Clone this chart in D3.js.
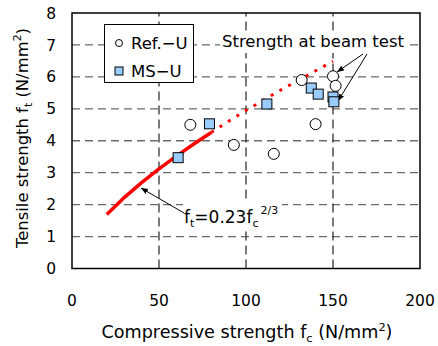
<!DOCTYPE html>
<html>
<head>
<meta charset="utf-8">
<script src="https://cdn.jsdelivr.net/npm/d3@7"></script>
<style>
  body { margin: 0; background: #fff; }
  text { font-family: "DejaVu Sans", sans-serif; fill: #000; }
</style>
</head>
<body>
<div id="chart"></div>
<script>
// Set up dimensions
const width = 438;
const height = 346;
const margin = {top: 13, right: 18, bottom: 77.5, left: 72};

// Data
const refX = [68, 93, 116, 132, 140, 150, 151.5];
const refY = [4.5, 3.87, 3.59, 5.9, 4.52, 6.02, 5.72];
const msX = [61, 79, 112, 137.5, 141.5, 150, 150.5];
const msY = [3.47, 4.53, 5.15, 5.65, 5.46, 5.37, 5.22];
// f_t = 0.23 f_c^(2/3) curve, read as points
const curveX = [20, 30, 40, 50, 60, 70, 80];
const curveY = [1.69, 2.22, 2.69, 3.12, 3.52, 3.90, 4.26];
const dotX = [80, 90, 100, 110, 120, 130, 140, 150];
const dotY = [4.26, 4.61, 4.95, 5.27, 5.59, 5.89, 6.19, 6.49];
const xTicks = [0, 50, 100, 150, 200];
const yTicks = [0, 1, 2, 3, 4, 5, 6, 7, 8];

const svg = d3.select('#chart')
    .append('svg')
    .attr('width', width)
    .attr('height', height);

const x = d3.scaleLinear().domain([0, 200]).range([margin.left, width - margin.right]);
const y = d3.scaleLinear().domain([0, 8]).range([height - margin.bottom, margin.top]);

// Grid
svg.append('g')
    .selectAll('line')
    .data(yTicks.slice(1, -1))
    .enter()
    .append('line')
    .attr('x1', x(0)).attr('x2', x(200))
    .attr('y1', d => y(d)).attr('y2', d => y(d))
    .style('stroke', '#6a6a6a')
    .style('stroke-width', 1.3)
    .style('stroke-dasharray', '8,5');

svg.append('g')
    .selectAll('line')
    .data([50, 100, 150])
    .enter()
    .append('line')
    .attr('x1', d => x(d)).attr('x2', d => x(d))
    .attr('y1', y(0)).attr('y2', y(8))
    .style('stroke', '#222')
    .style('stroke-width', 1.2)
    .style('stroke-dasharray', '9,5');

// Frame
svg.append('rect')
    .attr('x', x(0)).attr('y', y(8))
    .attr('width', x(200) - x(0))
    .attr('height', y(0) - y(8))
    .style('fill', 'none')
    .style('stroke', '#000')
    .style('stroke-width', 1.5);

// Tick labels
svg.append('g')
    .selectAll('text')
    .data(yTicks)
    .enter()
    .append('text')
    .attr('x', 56)
    .attr('y', d => y(d))
    .attr('dy', '0.36em')
    .attr('text-anchor', 'end')
    .style('font-size', '15.5px')
    .text(d => d);

svg.append('g')
    .selectAll('text')
    .data(xTicks)
    .enter()
    .append('text')
    .attr('x', d => x(d))
    .attr('y', 300)
    .attr('dy', '0.36em')
    .attr('text-anchor', 'middle')
    .style('font-size', '15.5px')
    .text(d => d);

// Axis titles
const xt = svg.append('text')
    .attr('x', 247)
    .attr('y', 338)
    .attr('text-anchor', 'middle')
    .attr('textLength', 291)
    .attr('lengthAdjust', 'spacingAndGlyphs')
    .style('font-size', '17px');
xt.append('tspan').text('Compressive strength f');
xt.append('tspan').attr('dy', 4).style('font-size', '11px').text('c');
xt.append('tspan').attr('dy', -4).text(' (N/mm');
xt.append('tspan').attr('dy', -7).style('font-size', '11px').text('2');
xt.append('tspan').attr('dy', 7).text(')');

const yt = svg.append('text')
    .attr('transform', 'translate(28,138) rotate(-90)')
    .attr('text-anchor', 'middle')
    .attr('textLength', 220)
    .attr('lengthAdjust', 'spacingAndGlyphs')
    .style('font-size', '16.5px');
yt.append('tspan').text('Tensile strength f');
yt.append('tspan').attr('dy', 4).style('font-size', '11px').text('t');
yt.append('tspan').attr('dy', -4).text(' (N/mm');
yt.append('tspan').attr('dy', -7).style('font-size', '11px').text('2');
yt.append('tspan').attr('dy', 7).text(')');

// Formula curve
const line = d3.line().x(d => x(d[0])).y(d => y(d[1]));
svg.append('path')
    .attr('d', line(d3.zip(curveX, curveY)))
    .style('fill', 'none')
    .style('stroke', '#ff0000')
    .style('stroke-width', 3.5);
svg.append('path')
    .attr('d', line(d3.zip(dotX, dotY)))
    .style('fill', 'none')
    .style('stroke', '#ff0000')
    .style('stroke-width', 3)
    .style('stroke-dasharray', '3,7');

// Arrow marker
svg.append('defs').append('marker')
    .attr('id', 'arrow')
    .attr('viewBox', '0 0 10 10')
    .attr('refX', 10).attr('refY', 5)
    .attr('markerWidth', 7).attr('markerHeight', 7)
    .attr('orient', 'auto')
    .append('path')
    .attr('d', 'M0,1 L10,5 L0,9 Z')
    .style('fill', '#000');

// Annotation: beam test
const beam = svg.append('g');
beam.append('rect')
    .attr('x', 220).attr('y', 31).attr('width', 186).attr('height', 22)
    .style('fill', '#fff');
beam.append('text')
    .attr('x', 222).attr('y', 47)
    .attr('textLength', 182)
    .attr('lengthAdjust', 'spacingAndGlyphs')
    .style('font-size', '16.5px')
    .text('Strength at beam test');
beam.append('line')
    .attr('x1', 363).attr('y1', 54).attr('x2', 337).attr('y2', 72)
    .style('stroke', '#000').attr('marker-end', 'url(#arrow)');
beam.append('line')
    .attr('x1', 367).attr('y1', 54).attr('x2', 338).attr('y2', 101)
    .style('stroke', '#000').attr('marker-end', 'url(#arrow)');

// Annotation: formula
const form = svg.append('g');
form.append('rect')
    .attr('x', 183).attr('y', 199).attr('width', 99).attr('height', 28)
    .style('fill', '#fff');
form.append('line')
    .attr('x1', 184).attr('y1', 213).attr('x2', 141).attr('y2', 188)
    .style('stroke', '#000').attr('marker-end', 'url(#arrow)');
const ft = form.append('text')
    .attr('x', 184).attr('y', 223)
    .style('font-size', '17px');
ft.append('tspan').text('f');
ft.append('tspan').attr('dy', 4).style('font-size', '11px').text('t');
ft.append('tspan').attr('dy', -4).text('=0.23f');
ft.append('tspan').attr('dy', 4).style('font-size', '11px').text('c');
ft.append('tspan').attr('dy', -13).attr('dx', 2).style('font-size', '11px').text('2/3');

// Points
svg.append('g')
    .selectAll('circle')
    .data(d3.zip(refX, refY))
    .enter()
    .append('circle')
    .attr('cx', d => x(d[0]))
    .attr('cy', d => y(d[1]))
    .attr('r', 5.5)
    .style('fill', '#fff')
    .style('stroke', '#000')
    .style('stroke-width', 1);

svg.append('g')
    .selectAll('rect')
    .data(d3.zip(msX, msY))
    .enter()
    .append('rect')
    .attr('x', d => x(d[0]) - 5)
    .attr('y', d => y(d[1]) - 5)
    .attr('width', 10).attr('height', 10)
    .style('fill', '#99ccff')
    .style('stroke', '#000')
    .style('stroke-width', 1);

// Legend
const legend = svg.append('g');
legend.append('rect')
    .attr('x', 104.5).attr('y', 24.5).attr('width', 89).attr('height', 58)
    .style('fill', '#fff')
    .style('stroke', '#000')
    .style('stroke-width', 1);
legend.append('circle')
    .attr('cx', 119).attr('cy', 43).attr('r', 3.5)
    .style('fill', '#fff').style('stroke', '#000');
legend.append('rect')
    .attr('x', 115).attr('y', 67).attr('width', 8).attr('height', 8)
    .style('fill', '#99ccff').style('stroke', '#000');
legend.append('text')
    .attr('x', 131).attr('y', 43).attr('dy', '0.36em')
    .style('font-size', '16.5px')
    .text('Ref.\u2212U');
legend.append('text')
    .attr('x', 131).attr('y', 71).attr('dy', '0.36em')
    .style('font-size', '16.5px')
    .text('MS\u2212U');
</script>
</body>
</html>
